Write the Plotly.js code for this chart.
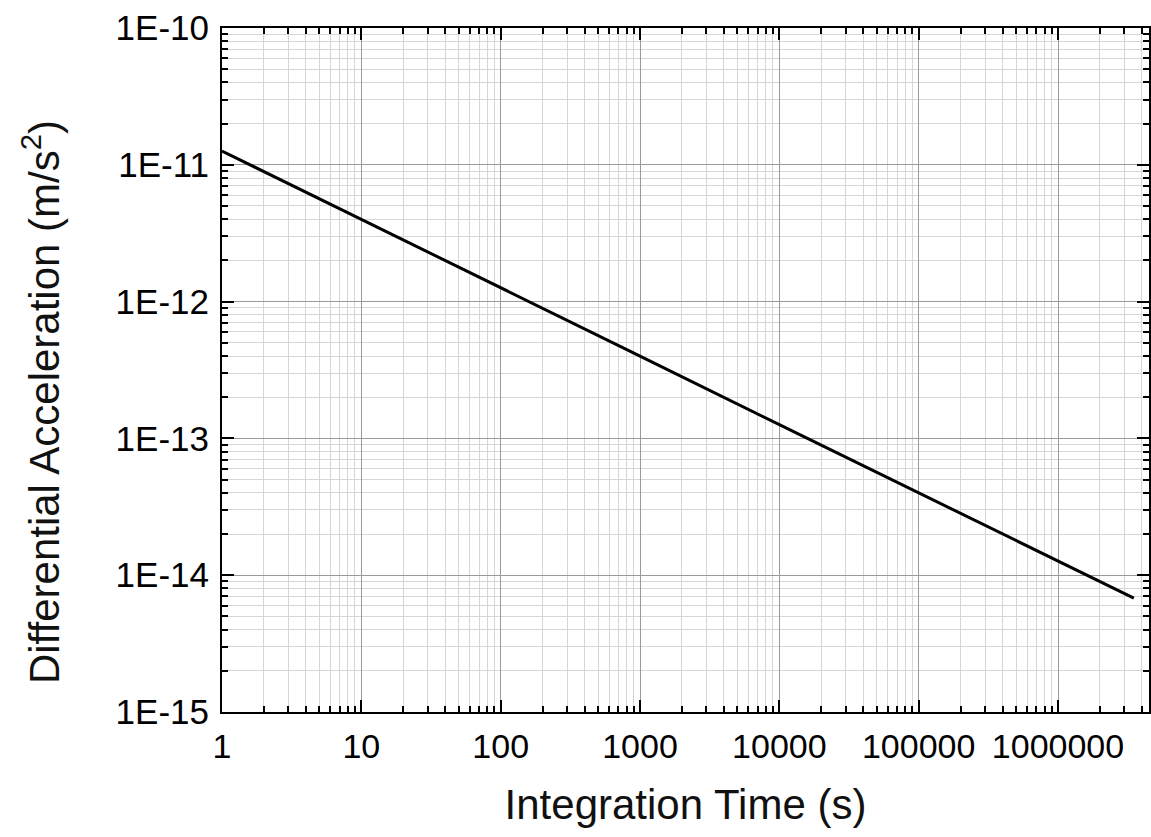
<!DOCTYPE html>
<html>
<head>
<meta charset="utf-8">
<script src="https://cdn.plot.ly/plotly-3.0.1.min.js"></script>
<style>html,body{margin:0;padding:0;background:#fff;}#chart{width:1151px;height:837px;}</style>
</head>
<body>
<div id="chart"></div>
<script>
// Data
const integrationTime = [1, 10, 100, 1000, 10000, 100000, 1000000, 3500000];
const differentialAcceleration = [1.26e-11, 4.0e-12, 1.26e-12, 4.0e-13, 1.26e-13, 4.0e-14, 1.26e-14, 6.8e-15];

const xTickVals = [1, 10, 100, 1000, 10000, 100000, 1000000];
const xTickText = ["1", "10", "100", "1000", "10000", "100000", "1000000"];
const yTickVals = [1e-15, 1e-14, 1e-13, 1e-12, 1e-11, 1e-10];
const yTickText = ["1E-15", "1E-14", "1E-13", "1E-12", "1E-11", "1E-10"];

const xTitle = "Integration Time (s)";
const yTitle = "Differential Acceleration (m/s<sup>2</sup>)";

const FONT = "Liberation Sans, Arial, sans-serif";

const trace = {
  x: integrationTime,
  y: differentialAcceleration,
  type: "scatter",
  mode: "lines",
  line: {color: "#000", width: 3},
  hoverinfo: "skip"
};

const axisCommon = {
  type: "log",
  showline: true,
  linecolor: "#000",
  linewidth: 2,
  mirror: "allticks",
  ticks: "inside",
  ticklen: 12,
  tickwidth: 2,
  tickcolor: "#000",
  showgrid: true,
  gridcolor: "#9a9a9a",
  gridwidth: 1,
  zeroline: false,
  minor: {
    dtick: "D1",
    ticks: "inside",
    ticklen: 6,
    tickwidth: 2,
    tickcolor: "#000",
    showgrid: true,
    gridcolor: "#d6d6d6",
    gridwidth: 1
  }
};

const layout = {
  width: 1151,
  height: 837,
  margin: {l: 222, r: 2, t: 28, b: 125},
  paper_bgcolor: "#fff",
  plot_bgcolor: "#fff",
  showlegend: false,
  xaxis: Object.assign({}, axisCommon, {
    range: [0, 6.653],
    tickmode: "array",
    tickvals: xTickVals,
    ticktext: xTickText,
    ticklabelstandoff: 3,
    tickfont: {family: FONT, size: 34, color: "#000"},
    title: {text: xTitle, font: {family: FONT, size: 42, color: "#111"}, standoff: 26}
  }),
  yaxis: Object.assign({}, axisCommon, {
    range: [-15, -10],
    tickmode: "array",
    tickvals: yTickVals,
    ticktext: yTickText,
    ticklabelstandoff: 4,
    tickfont: {family: FONT, size: 35, color: "#000"}
  }),
  annotations: [{
    text: yTitle,
    xref: "paper", yref: "paper",
    x: -0.2265, y: 0.4532,
    xanchor: "left", yanchor: "middle",
    textangle: -90,
    showarrow: false,
    font: {family: FONT, size: 42, color: "#111"}
  }]
};

Plotly.newPlot("chart", [trace], layout, {staticPlot: true, displayModeBar: false});
</script>
</body>
</html>
